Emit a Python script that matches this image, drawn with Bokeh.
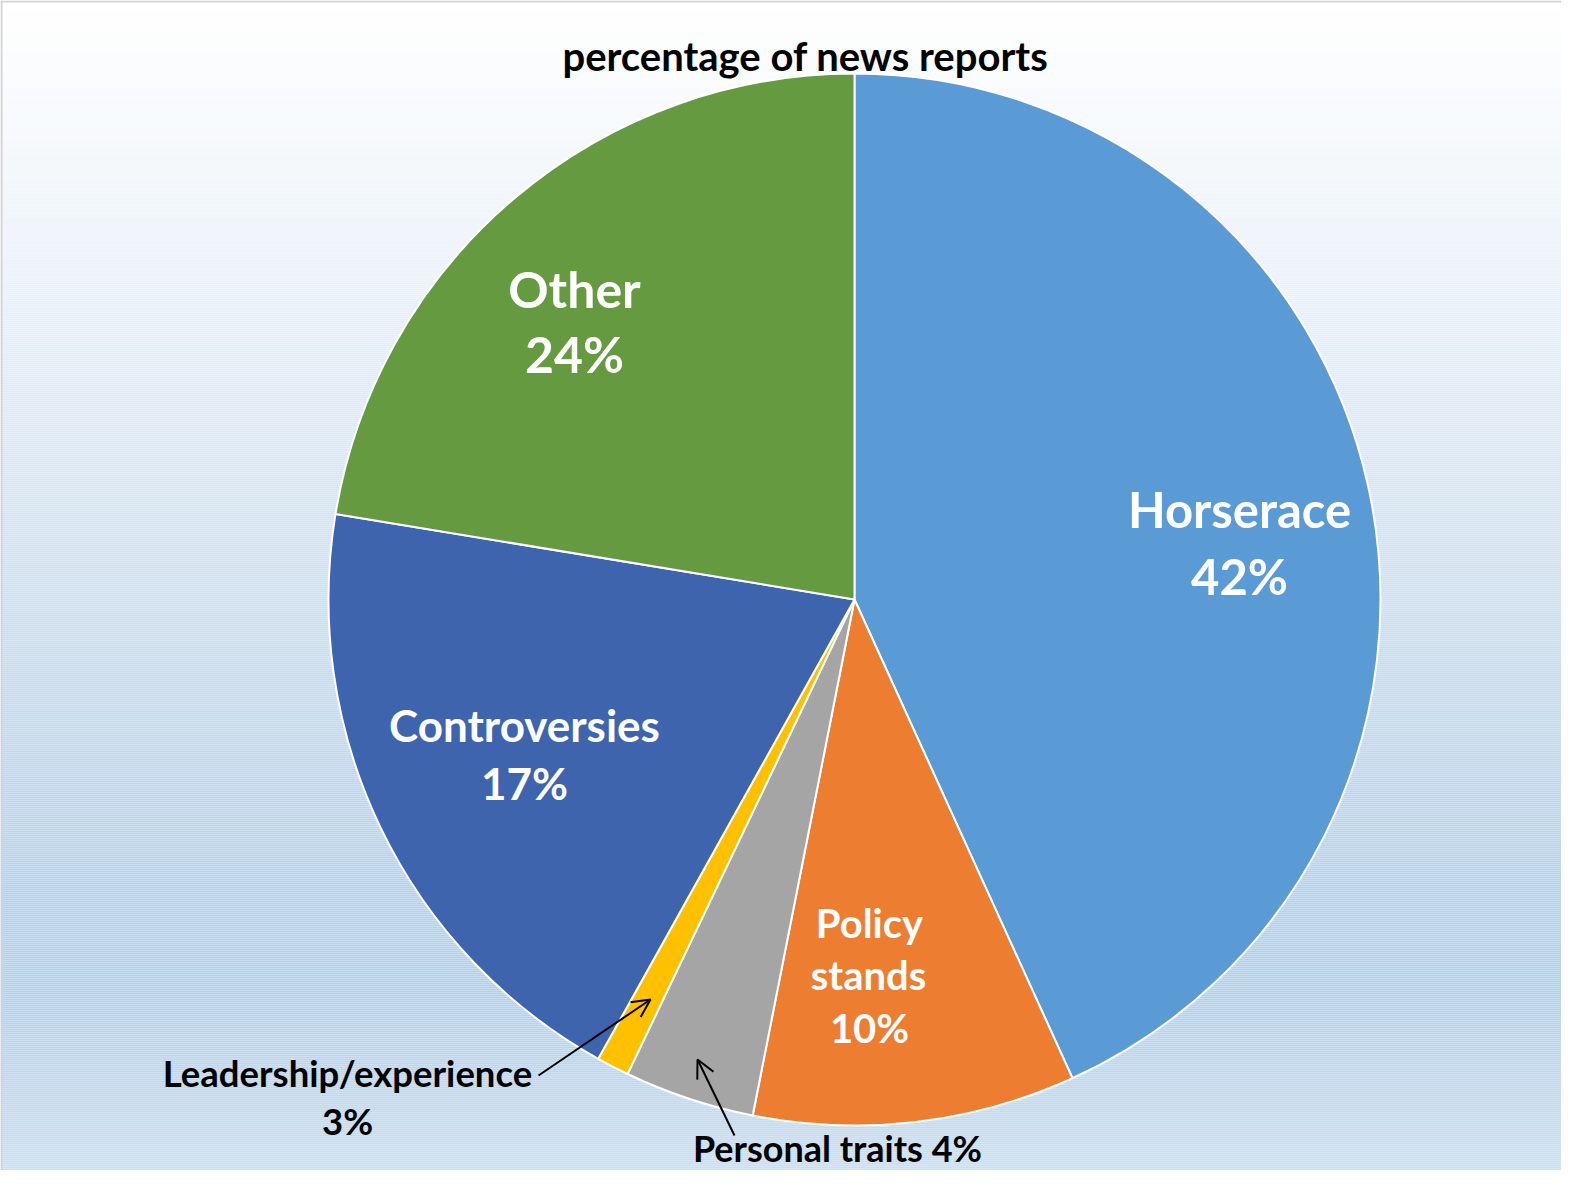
import numpy as np
from bokeh.plotting import figure
from bokeh.models import Range1d, Arrow, OpenHead, ColumnDataSource
from bokeh.core.properties import value
from bokeh.embed import file_html
from bokeh.resources import INLINE

# ---- data ----
categories = ["Horserace", "Policy stands", "Personal traits", "Leadership/experience", "Controversies", "Other"]
shares = [43.2, 9.9, 4.0, 1.0, 19.5, 22.4]          # slice sizes as drawn (percent)
label_pcts = ["42%", "10%", "4%", "3%", "17%", "24%"]  # printed labels
colors = ["#5B9BD5", "#ED7D31", "#A5A5A5", "#FFC000", "#3D64AD", "#659A40"]
title_text = "percentage of news reports"

# ---- layout ----
W, H = 1561, 1170
def fx(px):
    return px - 8
def fy(py):
    return H + 8 - py

p = figure(width=W, height=H, x_range=Range1d(0, W), y_range=Range1d(0, H),
           output_backend="svg", toolbar_location=None, min_border=0)
p.axis.visible = False
p.grid.visible = False
p.outline_line_color = None
p.border_fill_color = "white"
p.background_fill_color = "white"

# background gradient (style)
stop_y = [8, 300, 600, 900, 1000, 1178]
stop_c = ["#FFFFFF", "#E9F1FA", "#CEE0F1", "#B6D2EB", "#B4D1EA", "#CADFF2"]
def hex2rgb(h):
    return [int(h[i:i + 2], 16) for i in (1, 3, 5)]
rgbs = np.array([hex2rgb(c) for c in stop_c], dtype=float)
ys = np.arange(8, 1178, 2)
grad_cols = []
for yy in ys:
    r, g, b = (np.interp(yy + 1, stop_y, rgbs[:, k]) for k in range(3))
    grad_cols.append("#%02x%02x%02x" % (int(round(r)), int(round(g)), int(round(b))))
p.quad(left=0, right=W, top=[fy(v) for v in ys], bottom=[fy(v + 2) for v in ys],
       fill_color=grad_cols, line_color=None)
# frame edges
p.segment(x0=[0, 1], y0=[H - 1, 0], x1=[W, 1], y1=[H - 1, H], line_color="#D3D3D3", line_width=2)

# ---- pie ----
cx, cy, rad = fx(862), fy(607), 526
cum = np.concatenate([[0], np.cumsum(shares)]) / sum(shares)
start = [np.pi / 2 - 2 * np.pi * c for c in cum[:-1]]
end = [np.pi / 2 - 2 * np.pi * c for c in cum[1:]]
src = ColumnDataSource(dict(start=start, end=end, color=colors, cat=categories))
p.wedge(x=cx, y=cy, radius=rad, start_angle="start", end_angle="end", direction="clock",
        fill_color="color", line_color="white", line_width=2, source=src)

# ---- labels ----
font = value("Lato")
def put(txt, x, y, size, color):
    p.text(x=[fx(x)], y=[fy(y)], text=[txt], text_font=font, text_font_style="bold",
           text_font_size=size, text_color=color, text_align="center", text_baseline="middle")

put(title_text, 813, 63, "40px", "black")
put(categories[0], 1247, 516, "49px", "white")
put(label_pcts[0], 1247, 583, "49px", "white")
put(categories[5], 582, 296, "50px", "white")
put(label_pcts[5], 582, 361, "50px", "white")
put(categories[4], 532, 732, "44px", "white")
put(label_pcts[4], 532, 790, "44px", "white")
pol = categories[1].split(" ")
put(pol[0], 877, 930, "40px", "white")
put(pol[1], 876, 982, "40px", "white")
put(label_pcts[1], 877, 1035, "40px", "white")
put(categories[3], 355, 1080, "36.5px", "black")
put(label_pcts[3], 355, 1128, "36.5px", "black")
put(categories[2] + " " + label_pcts[2], 845, 1155, "36px", "black")

p.add_layout(Arrow(end=OpenHead(size=18, line_width=2, line_color="black"),
                   x_start=fx(546), y_start=fy(1083), x_end=fx(658), y_end=fy(1007),
                   line_width=2, line_color="black"))
p.add_layout(Arrow(end=OpenHead(size=18, line_width=2, line_color="black"),
                   x_start=fx(742), y_start=fy(1143), x_end=fx(705), y_end=fy(1067),
                   line_width=2, line_color="black"))

open("out.html", "w").write(file_html(p, INLINE))
